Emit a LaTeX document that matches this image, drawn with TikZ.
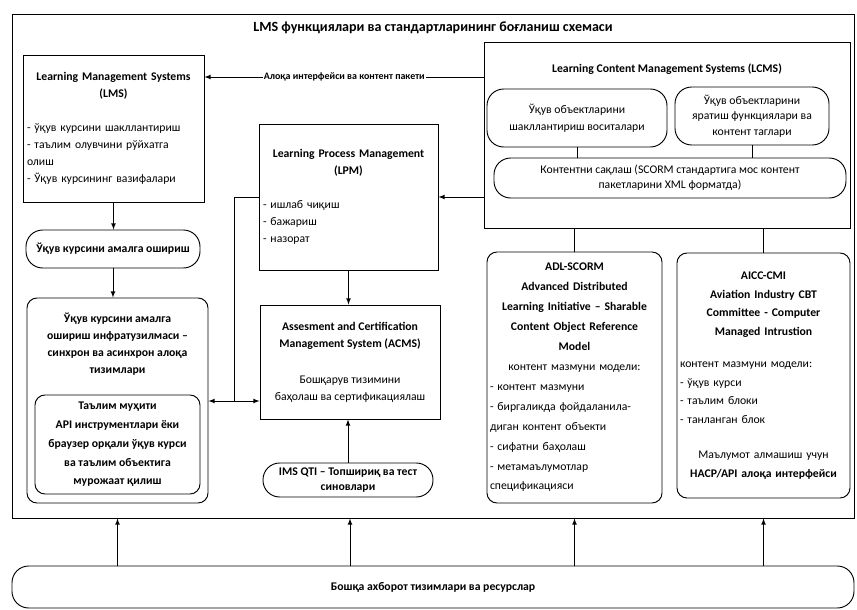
\documentclass[tikz,border=0pt]{standalone}
\usepackage{fontspec}
\setmainfont{Carlito}

\newcommand*{\fsz}{\fontsize{10}{14.5}\selectfont}
\newcommand*{\pxu}{0.03cm}

\begin{document}
\begin{tikzpicture}
[
	x=0.03cm, y=-0.03cm,
	font=\fsz,
	box/.style={draw, line width=0.8pt, rectangle, inner sep=2pt},
	rbox/.style={box, rounded corners=0.3cm},
	pill/.style={box, rounded corners=0.5cm},
	hd/.style={font=\fsz\bfseries, align=center},
	sz/.style 2 args={minimum width=#1*\pxu, minimum height=#2*\pxu},
	tw/.style={text width=#1*\pxu},
	arr/.style={-latex, line width=0.8pt},
	con/.style={line width=0.8pt}
]

	\useasboundingbox (0,0) rectangle (857,610);

	% outer frame and title
	\node[box, sz={842}{504}] (frame) at (433,266) {};
	\node[hd, font=\fontsize{12}{14}\selectfont\bfseries] (title) at (433,28)
		{LMS функциялари ва стандартларининг боғланиш схемаси};

	% left column
	\node[box, sz={181}{147}, tw=173, align=left] (lms) at (113.5,128.5)
		{{\centering\bfseries Learning Management Systems\\(LMS)\par}\vspace{14pt}%
		- ўқув курсини шакллантириш\\- таълим олувчини рўйхатга\\олиш\\- Ўқув курсининг вазифалари};
	\node[pill, sz={174}{38}, hd] (course) at (113,249) {Ўқув курсини амалга ошириш};
	\node[rbox, sz={181}{205}] (infra) at (117.5,400.5) {};
	\node[hd] (infratitle) at (117.5,344)
		{Ўқув курсини амалга\\ошириш инфратузилмаси –\\синхрон ва асинхрон алоқа\\тизимлари};
	\node[rbox, sz={165}{99}, hd, font=\fontsize{10}{16}\selectfont\bfseries] (env) at (117.5,444.5)
		{Таълим муҳити\\API инструментлари ёки\\браузер орқали ўқув курси\\ва таълим объектига\\мурожаат қилиш};

	% middle column
	\node[box, sz={179}{146}, tw=171, align=left] (lpm) at (348.5,197)
		{{\centering\bfseries Learning Process Management\\(LPM)\par}\vspace{14pt}%
		- ишлаб чиқиш\\- бажариш\\- назорат};
	\node[box, sz={180}{114}, align=center] (acms) at (350,362)
		{\textbf{Assesment and Certification}\\\textbf{Management System (ACMS)}\\[16pt]%
		Бошқарув тизимини\\баҳолаш ва сертификациялаш};
	\node[pill, sz={170}{34}, hd, font=\fontsize{10}{12.5}\selectfont\bfseries] (qti) at (348,480)
		{IMS QTI – Топшириқ ва тест\\синовлари};

	% LCMS
	\node[box, sz={366}{186}] (lcms) at (667,135) {};
	\node[hd] (lcmstitle) at (667,69) {Learning Content Management Systems (LCMS)};
	\node[pill, sz={180}{58}, align=center] (obj1) at (577,118)
		{Ўқув объектларини\\шакллантириш воситалари};
	\node[pill, sz={154}{58}, align=center, font=\fontsize{10}{13}\selectfont] (obj2) at (752,116)
		{Ўқув объектларини\\яратиш функциялари ва\\контент таглари};
	\node[pill, sz={352}{40}, align=center, font=\fontsize{10}{13}\selectfont] (store) at (670,178)
		{Контентни сақлаш (SCORM стандартига мос контент\\пакетларини XML форматда)};

	% standards
	\node[rbox, sz={175}{251}, tw=169, align=left, font=\fontsize{10}{17}\selectfont] (adl) at (574.5,377.5)
		{{\centering\bfseries ADL-SCORM\\Advanced Distributed\\Learning Initiative – Sharable\\Content Object Reference\\Model\par}%
		{\centering контент мазмуни модели:\par}%
		- контент мазмуни\\- биргаликда фойдаланила-\\диган контент объекти\\- сифатни баҳолаш\\- метамаълумотлар\\спецификацияси};
	\node[rbox, sz={173}{245}, tw=167, align=left, font=\fontsize{10}{16}\selectfont] (aicc) at (763.5,375.5)
		{{\centering\bfseries AICC-CMI\\Aviation Industry CBT\\Committee - Computer\\Managed Intrustion\par}\vspace{11pt}%
		контент мазмуни модели:\\- ўқув курси\\- таълим блоки\\- танланган блок\par\vspace{14pt}%
		{\centering Маълумот алмашиш учун\\\textbf{HACP/API алоқа интерфейси}\par}};

	% other resources
	\node[pill, sz={842}{42}, hd] (res) at (433,587) {Бошқа ахборот тизимлари ва ресурслар};

	% connectors
	\coordinate (ifc) at (484,77);
	\draw[arr] (ifc) -- (ifc -| lms.east)
		node[midway, fill=white, inner sep=1pt, font=\fontsize{8.5}{10}\selectfont\bfseries] (ifclbl)
		{Алоқа интерфейси ва контент пакети};
	\draw[arr] (lms.south) -- (lms.south |- course.north);
	\draw[arr] (course.south) -- (course.south |- infra.north);
	\draw[arr] (lcms.west |- lpm.east) -- (lpm.east);
	\draw[arr] (lpm.south) -- (lpm.south |- acms.north);
	\draw[arr] (qti.north) -- (qti.north |- acms.south);

	\coordinate (jn) at (234,401);
	\draw[con] (lpm.west) -| (jn);
	\draw[arr] (jn) -- (jn -| acms.west);
	\draw[arr] (jn) -- (jn -| infra.east);

	\draw[con] (obj1.south) -- (obj1.south |- store.north);
	\draw[con] (obj2.south) -- (obj2.south |- store.north);
	\draw[con] (adl.north) -- (adl.north |- lcms.south);
	\draw[con] (aicc.north) -- (aicc.north |- lcms.south);

	\foreach \n in {infra,acms,adl,aicc}
		\draw[arr] (res.north -| \n) -- (frame.south -| \n);

\end{tikzpicture}
\end{document}
